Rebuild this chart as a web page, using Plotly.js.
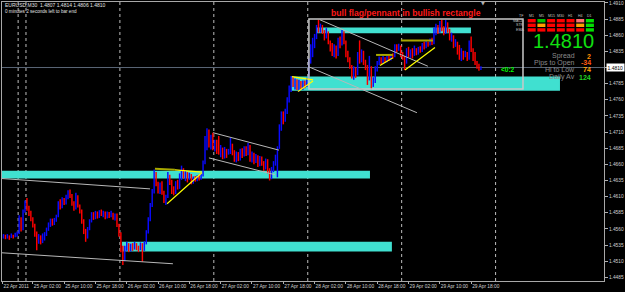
<!DOCTYPE html>
<html><head><meta charset="utf-8">
<script src="https://cdn.plot.ly/plotly-3.0.1.min.js"></script>
<style>html,body{margin:0;padding:0;background:#000;overflow:hidden}#chart{width:625px;height:292px}</style>
</head><body><div id="chart"></div>
<script>
// ---------- DATA (EURUSD M30, prices as pips above 1.4000) ----------
const PRICE_BASE = 1.4;
const FIRST_BAR = -11;          // bar index of first candle (25 Apr 00:00 = bar 0)
const OPEN0 = 548;
const CLOSE = [
 550,546,549,547,550,548,551,552,578,560,
 587,598,592,585,575,566,552,540,548,543,
 545,552,560,566,572,568,574,578,600,595,
 605,601,610,618,612,600,592,610,596,588,
 572,556,548,560,572,582,578,584,579,586,
 582,585,578,584,580,583,576,581,566,552,
 530,515,530,535,528,534,529,536,531,530,
 534,528,538,555,575,597,618,645,630,620,
 628,616,604,610,640,632,622,615,630,624,
 640,652,641,646,638,643,632,638,636,640,
 637,644,662,700,712,690,702,686,692,690,
 678,683,675,680,676,678,688,678,670,676,
 668,680,674,684,676,688,668,675,664,672,
 660,670,662,654,666,650,640,652,662,670,
 684,718,738,730,744,760,778,794,784,790,
 778,786,780,788,782,792,820,842,848,858,
 872,868,874,866,858,866,850,838,832,842,
 830,852,846,864,850,832,822,812,798,804,
 800,828,820,832,818,810,790,812,784,790,
 808,816,822,818,824,820,826,822,828,826,
 842,838,844,830,826,818,836,828,834,830,
 838,832,840,836,846,842,850,846,852,848,
 868,872,866,878,870,864,878,868,856,860,
 846,850,836,828,834,826,832,824,850,836,
 826,818,812,806,810];
const HIGH = [
 552,551,552,550,553,551,554,556,581,578,
 590,604,608,596,588,578,568,556,552,550,
 553,555,562,570,576,576,577,582,603,606,
 609,608,613,620,621,614,603,616,612,598,
 590,575,560,563,575,586,586,588,587,589,
 590,588,587,587,586,588,585,584,584,568,
 555,534,534,540,538,537,538,540,538,534,
 539,538,541,558,578,600,622,652,648,633,
 632,634,619,613,648,644,636,626,634,636,
 646,658,654,650,648,647,645,641,642,643,
 644,647,666,704,716,714,706,709,698,698,
 704,690,686,687,684,684,701,692,682,680,
 679,684,685,688,688,693,690,680,678,676,
 674,673,672,665,669,668,654,656,665,675,
 688,722,742,742,746,764,782,797,796,793,
 792,791,789,790,790,794,824,846,856,862,
 876,884,878,876,868,871,866,852,848,846,
 844,856,858,868,866,852,836,826,814,812,
 810,834,852,838,836,822,814,828,810,795,
 812,820,827,826,828,826,829,828,831,832,
 846,846,847,844,834,828,840,842,838,840,
 844,840,842,843,848,850,852,850,855,856,
 872,878,876,882,884,874,884,880,870,864,
 860,854,850,845,840,836,836,834,852,858,
 840,834,820,816,812];
const LOW = [
 545,544,545,543,546,545,547,548,552,556,
 558,585,588,580,572,562,548,527,537,536,
 538,542,549,557,563,565,566,571,578,590,
 592,597,598,606,608,596,588,590,593,584,
 568,552,540,545,558,570,574,575,576,577,
 580,578,575,576,577,578,574,573,563,548,
 524,504,510,526,524,525,526,528,527,524,
 527,509,526,536,553,572,594,615,626,615,
 614,613,600,597,608,628,614,612,614,621,
 622,636,638,634,632,636,629,630,633,634,
 635,636,641,660,682,686,683,682,680,676,
 675,671,668,669,670,675,676,674,664,663,
 665,666,670,672,673,674,664,663,660,662,
 656,657,658,650,652,646,635,637,648,658,
 640,684,712,722,726,738,756,772,780,776,
 775,773,776,775,778,780,790,816,826,840,
 854,864,864,862,852,855,846,835,828,826,
 824,828,840,844,846,826,818,808,793,791,
 794,798,816,818,814,806,783,793,776,780,
 786,804,814,815,816,818,818,820,821,824,
 826,834,836,826,822,806,816,826,825,824,
 828,829,830,833,834,838,840,842,844,845,
 846,860,862,864,866,860,862,864,852,850,
 840,842,830,822,820,822,826,820,822,834,
 820,814,808,805,806];

// axis ticks
const Y_TICKS = [1.4485,1.4510,1.4535,1.4560,1.4585,1.4610,1.4635,1.4660,1.4685,
                 1.4710,1.4735,1.4760,1.4785,1.4810,1.4835,1.4860,1.4885,1.4910];
const X_TICK_BARS = [-11.5,4,20,36,52,68,84,100,116,132,148,164,180,196,212,228];
const X_TICK_TEXT = ['22 Apr 2011','25 Apr 02:00','25 Apr 10:00','25 Apr 18:00','26 Apr 02:00',
  '26 Apr 10:00','26 Apr 18:00','27 Apr 02:00','27 Apr 10:00','27 Apr 18:00','28 Apr 02:00',
  '28 Apr 10:00','28 Apr 18:00','29 Apr 02:00','29 Apr 10:00','29 Apr 18:00'];
const DAY_SEPARATORS = [-3.5,0.5,48.5,96.5,144.5,192.5,240.5];

// chart objects (bar index, price)
const ZONE_X0 = [-11.75, 49.6, 135.9, 149.2];
const ZONE_X1 = [176.3, 187.5, 273.4, 227.9];
const ZONE_LO = [1.4638, 1.4525, 1.4774, 1.4863];
const ZONE_HI = [1.4650, 1.4540, 1.4796, 1.4872];
const RANGE_BOX = [145.1, 1.47768, 254.5, 1.48852];
const GRAY_LINES = [   // x0, y0, x1, y1
  [-11.75,1.4638, 63.9,1.4622],
  [-11.75,1.4523, 75.6,1.4506],
  [96.1,1.4709, 129.8,1.4682],
  [94.0,1.4670, 127.7,1.4644],
  [150.7,1.4884, 205.9,1.4812],
  [145.1,1.4811, 200.3,1.4740]];
const YELLOW_LINES = [
  [76.6,1.46515, 90.4,1.4648],
  [72.6,1.4599, 90.4,1.4647],
  [136.4,1.4796, 147.2,1.4791],
  [139.5,1.4773, 147.2,1.4789],
  [181.4,1.4813, 188.0,1.4825],
  [194.2,1.4806, 209.5,1.4841]];
const OLIVE_LINES = [
  [66.4,1.4653, 76.6,1.46515],
  [179.4,1.48295, 188.0,1.48295],
  [192.1,1.4852, 208.5,1.4852]];
const LAST_PRICE = 1.4810;

// info panel
const TF_LABELS = ['M1','M5','M15','M30','H1','H4','D1'];
const ROW_LABELS = ['MACD','STR','EMA'];
const STATES = [
  ['dn','up','dn','dn','dn','dw','up'],
  ['dn','nt','dn','dn','dn','nt','up'],
  ['dn','dn','dn','dn','dn','dn','up']];
const STAT_LABELS = ['Spread','Pips to Open','Hi to Low','Daily Av'];
const STAT_VALUES = ['2','-34','74','124'];

// ---------- BUILD ----------
const toP = v => +(PRICE_BASE + v/10000).toFixed(5);
const xs = CLOSE.map((_, k) => FIRST_BAR + k);
const closeP = CLOSE.map(toP);
const openP = [OPEN0].concat(CLOSE.slice(0, -1)).map(toP);
const highP = HIGH.map((v,k)=>Math.max(toP(v), openP[k], closeP[k]));
const lowP = LOW.map((v,k)=>Math.min(toP(v), openP[k], closeP[k]));

const PL=2, PR=604, PT=2, PB=281;
const pxX = x => (x-PL)/(PR-PL);
const pxY = y => (PB-y)/(PB-PT);

const shapes = [];
ZONE_X0.forEach((x0,k)=>shapes.push({type:'rect',xref:'x',yref:'y',x0:x0,x1:ZONE_X1[k],y0:ZONE_LO[k],y1:ZONE_HI[k],
  fillcolor:'#40e0d0',line:{width:0},layer:'below'}));
DAY_SEPARATORS.forEach(x=>shapes.push({type:'line',xref:'x',yref:'paper',x0:x,x1:x,y0:0,y1:1,
  line:{color:'#bdbdbd',width:1,dash:'dot'},layer:'below'}));
shapes.push({type:'line',xref:'paper',yref:'y',x0:0,x1:1,y0:LAST_PRICE,y1:LAST_PRICE,
  line:{color:'#5a6676',width:1},layer:'below'});
shapes.push({type:'rect',xref:'x',yref:'y',x0:RANGE_BOX[0],y0:RANGE_BOX[1],x1:RANGE_BOX[2],y1:RANGE_BOX[3],
  line:{color:'#c8c8c8',width:1.5},layer:'above'});
GRAY_LINES.forEach(l=>shapes.push({type:'line',xref:'x',yref:'y',x0:l[0],y0:l[1],x1:l[2],y1:l[3],
  line:{color:'#b8b8b8',width:1},layer:'above'}));
YELLOW_LINES.forEach(l=>shapes.push({type:'line',xref:'x',yref:'y',x0:l[0],y0:l[1],x1:l[2],y1:l[3],
  line:{color:'#ffff00',width:1.2},layer:'above'}));
OLIVE_LINES.forEach(l=>shapes.push({type:'line',xref:'x',yref:'y',x0:l[0],y0:l[1],x1:l[2],y1:l[3],
  line:{color:'#a8a800',width:2},layer:'above'}));

const STATE_COL = {dn:'#ff0000', up:'#00c000', nt:'#ffa000', dw:'#ff7070'};
STATES.forEach((row,r)=>row.forEach((s,c)=>{
  const x0 = 527.7 + c*9.7, y0 = 19 + r*4.6;
  shapes.push({type:'rect',xref:'paper',yref:'paper',x0:pxX(x0),x1:pxX(x0+8),y0:pxY(y0+3.4),y1:pxY(y0),
    fillcolor: s==='up' && c===6 ? '#00e000' : STATE_COL[s], line:{width:0},layer:'above'});
}));

const F = 'Liberation Sans, Arial, sans-serif';
const ann = [];
const txt = (t,x,y,o) => ann.push(Object.assign({text:t,xref:'paper',yref:'paper',x:pxX(x),y:pxY(y),
  showarrow:false,xanchor:'left',yanchor:'middle',font:{family:F,size:5,color:'#e0e0e0'}},o||{}));
txt('EURUSD,M30  1.4807 1.4814 1.4806 1.4810', 3, 5.5);
txt('0 minutes 2 seconds left to bar end', 3, 11.5, {font:{family:F,size:4.6,color:'#e0e0e0'}});
txt('<b>bull flag/pennant in bullish rectangle</b>', 406, 13, {xanchor:'center',font:{family:F,size:8.6,color:'#ff1a1a'}});
txt('1.4810', 563.5, 41.5, {xanchor:'center',font:{family:F,size:20,color:'#10e010'}});
const statCol = ['#ff8c00','#ff5a10','#ffa000','#20d020'];
const statY = [56, 63, 70, 77];
STAT_LABELS.forEach((s,k)=>{
  txt(s, 577, statY[k], {xanchor:'right',font:{family:F,size:7,color:'#8a8a8a'}});
  txt('<b>'+STAT_VALUES[k]+'</b>', 593, statY[k], {xanchor:'right',font:{family:F,size:7,color:statCol[k]}});
});
txt('<b><0:2</b>', 499, 69, {font:{family:F,size:6.5,color:'#00ff00'}});
TF_LABELS.forEach((t,c)=>txt(t, 531.7 + c*9.7, 15.7, {xanchor:'center',font:{family:F,size:3.6,color:'#c0c0c0'}}));
txt('TF', 521, 15.7, {xanchor:'center',font:{family:F,size:3.6,color:'#c0c0c0'}});
ROW_LABELS.forEach((t,r)=>txt(t, 526, 20.7 + r*4.6, {xanchor:'right',font:{family:F,size:3.6,color:'#c0c0c0'}}));
txt('▼', 483, 3, {xanchor:'center',font:{family:'DejaVu Sans',size:5,color:'#b0b0b0'}});
// current price box on the axis
ann.push({text:'1.4810',xref:'paper',yref:'y',x:pxX(605.5),y:LAST_PRICE,xanchor:'left',yanchor:'middle',
  showarrow:false,bgcolor:'#ffffff',borderpad:0.5,font:{family:F,size:5,color:'#000000'}});

const trace = {type:'ohlc', x:xs, open:openP, high:highP, low:lowP, close:closeP,
  tickwidth:0, hoverinfo:'skip',
  increasing:{line:{color:'#0a0aff',width:1.45}},
  decreasing:{line:{color:'#ff0000',width:1.45}}};

const layout = {
  width:625, height:292, margin:{l:PL,r:625-PR,t:PT,b:292-PB,pad:0},
  paper_bgcolor:'#000', plot_bgcolor:'#000', showlegend:false,
  xaxis:{range:[-11.75,295.9], rangeslider:{visible:false}, showgrid:false, zeroline:false,
    tickvals:X_TICK_BARS, ticktext:X_TICK_TEXT, ticks:'outside', ticklen:2, tickcolor:'#b0b0b0',
    tickangle:0, ticklabelposition:'outside right', ticklabelstandoff:0,
    tickfont:{family:F,size:4.8,color:'#d0d0d0'},
    showline:true, mirror:true, linecolor:'#a8a8a8', linewidth:1, automargin:false},
  yaxis:{range:[1.44793,1.49115], side:'right', showgrid:false, zeroline:false,
    tickvals:Y_TICKS, ticktext:Y_TICKS.map(v=>v.toFixed(4)), ticks:'outside', ticklen:3, tickcolor:'#b0b0b0',
    tickfont:{family:F,size:4.8,color:'#d0d0d0'},
    showline:true, mirror:true, linecolor:'#a8a8a8', linewidth:1, automargin:false},
  shapes:shapes, annotations:ann
};
Plotly.newPlot('chart',[trace],layout,{staticPlot:true,displayModeBar:false});
</script></body></html>
